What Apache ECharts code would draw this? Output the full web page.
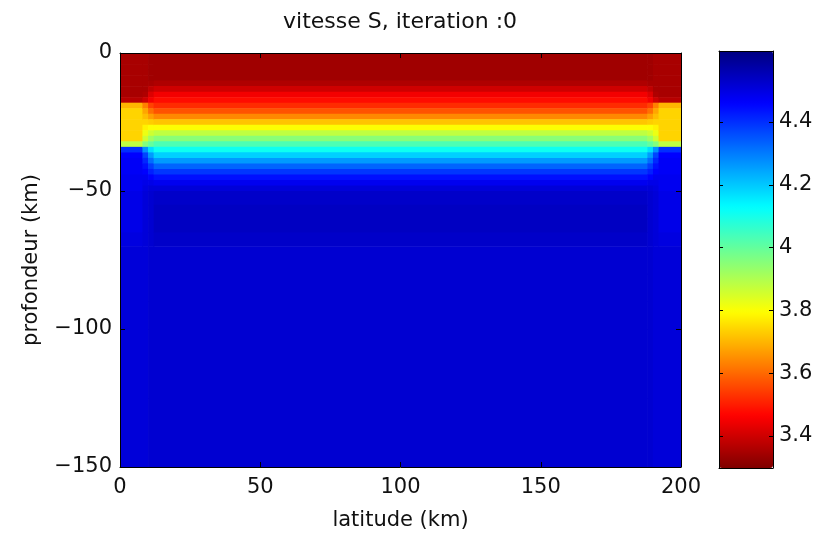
<!DOCTYPE html>
<html><head><meta charset="utf-8">
<script src="https://cdn.jsdelivr.net/npm/echarts@6/dist/echarts.min.js"></script>
<style>html,body{margin:0;padding:0;background:#fff}#c{width:819px;height:537px}</style>
</head><body><div id="c"></div>
<script>
// column boundaries (latitude, km) and which depth profile each column uses
var latBounds = [0, 8, 10, 12, 188, 190, 192, 200];
var columnProfiles = ['edge', 'transA', 'transB', 'center', 'transB', 'transA', 'edge'];
// layer boundaries (depth, km)
var depthBounds = [0, -2, -4, -6, -8, -10, -12, -14, -16, -18, -20, -22, -24, -26, -28, -30, -32, -34, -36, -38, -40, -42, -44, -46, -48, -50,
  -55, -60, -65, -70, -80, -90, -100, -125, -150];
// S velocity per layer
var centerProfile = [3.34, 3.34, 3.34, 3.34, 3.34, 3.36, 3.40, 3.45, 3.48, 3.52, 3.57, 3.64, 3.72, 3.80, 3.88, 3.95, 4.03, 4.11, 4.19, 4.26, 4.33, 4.39, 4.44, 4.48, 4.51,
  4.53, 4.54, 4.54, 4.53, 4.52, 4.52, 4.52, 4.52, 4.52];
var edgeProfile = [3.35, 3.35, 3.35, 3.35, 3.35, 3.35, 3.35, 3.35, 3.37, 3.70, 3.74, 3.74, 3.74, 3.74, 3.74, 3.74, 3.88, 4.40, 4.46, 4.47, 4.47, 4.47, 4.48, 4.48, 4.48,
  4.49, 4.49, 4.49, 4.50, 4.51, 4.51, 4.51, 4.51, 4.51];
var transAProfile = [3.35, 3.35, 3.35, 3.35, 3.35, 3.35, 3.35, 3.36, 3.40, 3.63, 3.68, 3.71, 3.74, 3.78, 3.82, 3.86, 3.96, 4.27, 4.37, 4.41, 4.44, 4.46, 4.48, 4.49, 4.50,
  4.51, 4.51, 4.51, 4.51, 4.51, 4.51, 4.51, 4.51, 4.51];
var transBProfile = [3.34, 3.34, 3.34, 3.34, 3.34, 3.35, 3.38, 3.42, 3.45, 3.55, 3.61, 3.67, 3.73, 3.80, 3.86, 3.92, 4.00, 4.17, 4.26, 4.32, 4.38, 4.42, 4.46, 4.49, 4.51,
  4.52, 4.52, 4.52, 4.52, 4.52, 4.52, 4.52, 4.52, 4.52];
var xTicks = [0, 50, 100, 150, 200];
var yTicks = [-150, -100, -50, 0];
var colorbarTicks = [3.4, 3.6, 3.8, 4, 4.2, 4.4];
var colorRange = [3.298, 4.626];
var jetColors = ['#800000', '#ff0000', '#ff8000', '#ffff00', '#80ff80', '#00ffff', '#0080ff', '#0000ff', '#000080'];

var profiles = {edge: edgeProfile, transA: transAProfile, transB: transBProfile, center: centerProfile};
var cells = [];
for (var c = 0; c < columnProfiles.length; c++) {
  var prof = profiles[columnProfiles[c]];
  for (var l = 0; l < depthBounds.length - 1; l++) {
    cells.push([latBounds[c], latBounds[c + 1], depthBounds[l], depthBounds[l + 1], prof[l]]);
  }
}

var FONT = 'DejaVu Sans';
var TXT = '#111';
var lineStyle = {color: '#000', width: 1};
function minus(v) { return String(v).replace('-', '\u2212'); }

var chart = echarts.init(document.getElementById('c'), null, {renderer: 'canvas'});
chart.setOption({
  backgroundColor: '#fff',
  animation: false,
  title: {
    text: 'vitesse S, iteration :0', left: 278, top: 6,
    textStyle: {fontFamily: FONT, fontSize: 22, fontWeight: 'normal', color: TXT}
  },
  grid: [
    {left: 120, top: 53, width: 561, height: 414, show: false},
    {left: 719, top: 51, width: 54, height: 417, show: false}
  ],
  xAxis: [
    {gridIndex: 0, type: 'value', min: xTicks[0], max: xTicks[xTicks.length - 1], interval: 50, position: 'bottom', z: 10,
      axisLine: {show: true, onZero: false, lineStyle: lineStyle},
      axisTick: {show: true, inside: true, length: 5, lineStyle: lineStyle},
      axisLabel: {fontFamily: FONT, fontSize: 21, color: TXT, margin: 10},
      splitLine: {show: false},
      name: 'latitude (km)', nameLocation: 'middle', nameGap: 43,
      nameTextStyle: {fontFamily: FONT, fontSize: 21, color: TXT}},
    {gridIndex: 0, type: 'value', min: 0, max: 200, interval: 50, position: 'top', z: 10,
      axisLine: {show: true, onZero: false, lineStyle: lineStyle},
      axisTick: {show: true, inside: true, length: 5, lineStyle: lineStyle},
      axisLabel: {show: false}, splitLine: {show: false}},
    {gridIndex: 1, type: 'value', min: 0, max: 1, position: 'bottom', z: 10,
      axisLine: {show: true, onZero: false, lineStyle: lineStyle},
      axisTick: {show: false}, axisLabel: {show: false}, splitLine: {show: false}},
    {gridIndex: 1, type: 'value', min: 0, max: 1, position: 'top', z: 10,
      axisLine: {show: true, onZero: false, lineStyle: lineStyle},
      axisTick: {show: false}, axisLabel: {show: false}, splitLine: {show: false}}
  ],
  yAxis: [
    {gridIndex: 0, type: 'value', min: yTicks[0], max: yTicks[yTicks.length - 1], interval: 50, position: 'left', z: 10,
      axisLine: {show: true, onZero: false, lineStyle: lineStyle},
      axisTick: {show: true, inside: true, length: 5, lineStyle: lineStyle},
      axisLabel: {fontFamily: FONT, fontSize: 21, color: TXT, margin: 8, formatter: minus},
      splitLine: {show: false},
      name: 'profondeur (km)', nameLocation: 'middle', nameGap: 78,
      nameTextStyle: {fontFamily: FONT, fontSize: 21, color: TXT}},
    {gridIndex: 0, type: 'value', min: -150, max: 0, interval: 50, position: 'right', z: 10,
      axisLine: {show: true, onZero: false, lineStyle: lineStyle},
      axisTick: {show: true, inside: true, length: 5, lineStyle: lineStyle},
      axisLabel: {show: false}, splitLine: {show: false}},
    {gridIndex: 1, type: 'value', min: colorRange[0], max: colorRange[1], position: 'left', z: 10,
      axisLine: {show: true, onZero: false, lineStyle: lineStyle},
      axisTick: {show: true, inside: true, length: 4, lineStyle: lineStyle, customValues: colorbarTicks},
      axisLabel: {show: false}, splitLine: {show: false}},
    {gridIndex: 1, type: 'value', min: colorRange[0], max: colorRange[1], position: 'right', z: 10,
      axisLine: {show: true, onZero: false, lineStyle: lineStyle},
      axisTick: {show: true, inside: true, length: 4, lineStyle: lineStyle, customValues: colorbarTicks},
      axisLabel: {show: true, fontFamily: FONT, fontSize: 21, color: TXT, margin: 6, customValues: colorbarTicks},
      splitLine: {show: false}}
  ],
  visualMap: {
    type: 'continuous', seriesIndex: 0, dimension: 4,
    min: colorRange[0], max: colorRange[1],
    orient: 'vertical', left: 719, top: 51, itemWidth: 54, itemHeight: 417,
    padding: 0, calculable: false, hoverLink: false, text: null, z: 2,
    inRange: {color: jetColors}
  },
  series: [{
    type: 'custom', xAxisIndex: 0, yAxisIndex: 0, clip: true,
    encode: {x: [0, 1], y: [2, 3]},
    renderItem: function (params, api) {
      var p0 = api.coord([api.value(0), api.value(2)]);
      var p1 = api.coord([api.value(1), api.value(3)]);
      return {
        type: 'rect',
        shape: {x: Math.min(p0[0], p1[0]), y: Math.min(p0[1], p1[1]),
          width: Math.abs(p1[0] - p0[0]) + 0.6, height: Math.abs(p1[1] - p0[1]) + 0.6},
        style: {fill: api.visual('color')}
      };
    },
    data: cells
  }]
});
</script></body></html>
